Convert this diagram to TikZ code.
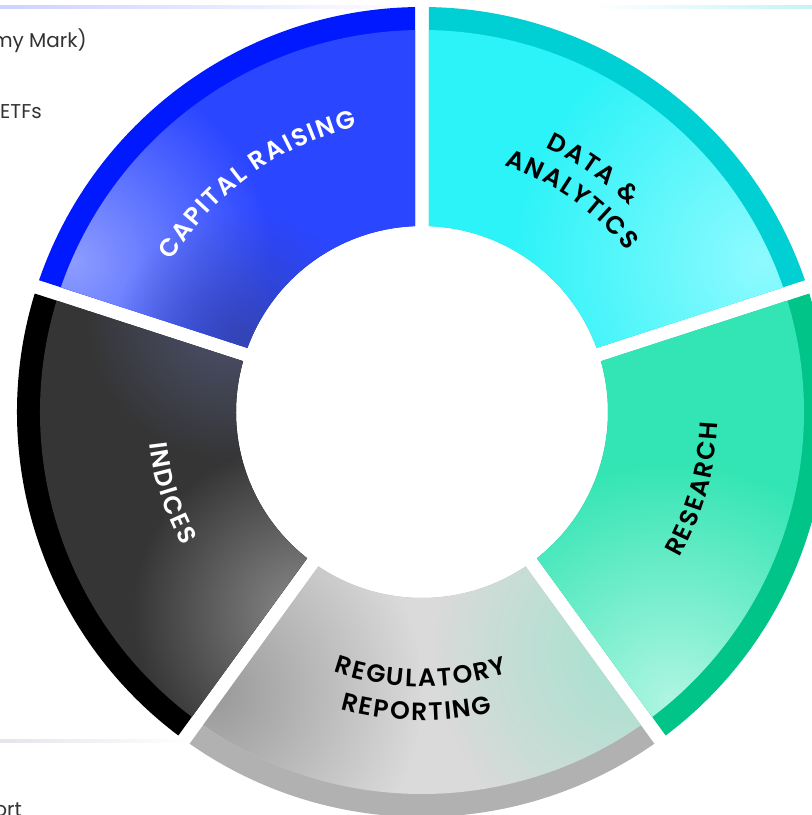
\documentclass[tikz,border=0pt]{standalone}
\usepackage{fontspec}
\setmainfont{Poppins}
\IfFontExistsTF{Poppins SemiBold}
  {\newfontfamily\labfamily{Poppins SemiBold}}
  {\newcommand\labfamily{\bfseries}}
\usetikzlibrary{decorations.text,fadings}

\definecolor{capband}{HTML}{0019FF}
\definecolor{capbase}{HTML}{2B46FF}
\definecolor{capspotA}{HTML}{8E9DFF}
\definecolor{capspotB}{HTML}{3444B4}
\definecolor{datband}{HTML}{00CFD4}
\definecolor{datbase}{HTML}{2CF3F8}
\definecolor{datspot}{HTML}{8FFBFF}
\definecolor{resband}{HTML}{00C488}
\definecolor{resbase}{HTML}{33E5B4}
\definecolor{resspot}{HTML}{B0F6E2}
\definecolor{regband}{HTML}{B1B1B1}
\definecolor{regbase}{HTML}{DADADA}
\definecolor{regspotA}{HTML}{999999}
\definecolor{regspotB}{HTML}{A3E3CF}
\definecolor{indband}{HTML}{000000}
\definecolor{indbase}{HTML}{353535}
\definecolor{indspotA}{HTML}{4F5472}
\definecolor{indspotB}{HTML}{8A8A8A}
\definecolor{lineblue}{HTML}{CDD2FF}
\definecolor{linecyan}{HTML}{C5F3F6}
\definecolor{linegrey}{HTML}{E4E4EC}
\definecolor{bgtext}{HTML}{333333}

% annular sector between angles #1,#2, radii #3 (inner) #4 (outer), with 7pt half gap
\newcommand\segp[4]{({#1+asin(7/#4)}:#4pt) arc[start angle={#1+asin(7/#4)}, end angle={#2-asin(7/#4)}, radius=#4pt] -- ({#2-asin(7/#3)}:#3pt) arc[start angle={#2-asin(7/#3)}, end angle={#1+asin(7/#3)}, radius=#3pt] -- cycle}
\newcommand\labfnt{\labfamily\fontsize{25pt}{30pt}\selectfont\kern1.8pt}

\tikzfading[name=spotfade, inner color=transparent!0, outer color=transparent!100]

\tikzset{
  bgtxt/.style={anchor=base east, text=bgtext, font=\fontsize{20pt}{24pt}\selectfont, inner sep=0pt},
  curved/.style={decorate, decoration={text along path, text={|\labfnt|#1}, text align=center}},
  whitetxt/.style={decoration={text color=white}},
  blacktxt/.style={decoration={text color=black}}
}

\newcommand\segment[6]{%
  \fill[#3] \segp{#1}{#2}{186}{405};
  \begin{scope}
    \clip \segp{#1}{#2}{186}{382};
    \fill[#4] (-450,-450) rectangle (450,450);
    #5
    #6
  \end{scope}
}

\begin{document}
\begin{tikzpicture}[x=1pt,y=1pt]
\useasboundingbox (-422,-403) rectangle (390,412);
\fill[white] (-422,-403) rectangle (390,412);
\clip (-422,-403) rectangle (390,412);

% background page remnants
\shade[left color=lineblue, right color=white] (-422,403.5) rectangle (0,406.5);
\shade[left color=white, right color=linecyan] (168,403.5) rectangle (390,406.5);
\shade[left color=linegrey, right color=white] (-422,-327.5) rectangle (-232,-330.5);
\node[bgtxt] (t1) at (-335,365) {my Mark)};
\node[bgtxt] (t2) at (-380,294) {ETFs};
\node[bgtxt] (t3) at (-400,-404) {ort};

% segments
\segment{18}{90}{datband}{datbase}
  {\fill[datspot, path fading=spotfade] (340,150) circle (250pt);}{}
\segment{90}{162}{capband}{capbase}
  {\fill[capspotA, path fading=spotfade] (-350,150) circle (200pt);}
  {\fill[capspotB, path fading=spotfade] (-180,70) circle (130pt);}
\segment{162}{234}{indband}{indbase}
  {\fill[indspotA, path fading=spotfade] (-190,100) circle (150pt);}
  {\fill[indspotB, path fading=spotfade] (-120,-200) circle (170pt);}
\segment{234}{306}{regband}{regbase}
  {\fill[regspotA, path fading=spotfade] (-210,-280) circle (210pt);}
  {\fill[regspotB, path fading=spotfade] (210,-240) circle (200pt);}
\segment{306}{378}{resband}{resbase}
  {\fill[resspot, path fading=spotfade] (250,-290) circle (240pt);}{}

% labels
\path[curved={CAPITAL RAISING}, whitetxt] (165:292pt) arc[start angle=165, end angle=87, radius=292pt];
\path[curved={DATA {\&}}, blacktxt] (85:292pt) arc[start angle=85, end angle=25, radius=292pt];
\path[curved={ANALYTICS}, blacktxt] (90:260pt) arc[start angle=90, end angle=20, radius=260pt];
\path[curved={RESEARCH}, blacktxt] (-52:296pt) arc[start angle=-52, end angle=20, radius=296pt];
\path[curved={REGULATORY}, blacktxt] (230:274.5pt) arc[start angle=230, end angle=309, radius=274.5pt];
\path[curved={REPORTING}, blacktxt] (235:308.5pt) arc[start angle=235, end angle=302.6, radius=308.5pt];
\path[curved={INDICES}, whitetxt] (165:274.5pt) arc[start angle=165, end angle=230.4, radius=274.5pt];
\end{tikzpicture}
\end{document}
